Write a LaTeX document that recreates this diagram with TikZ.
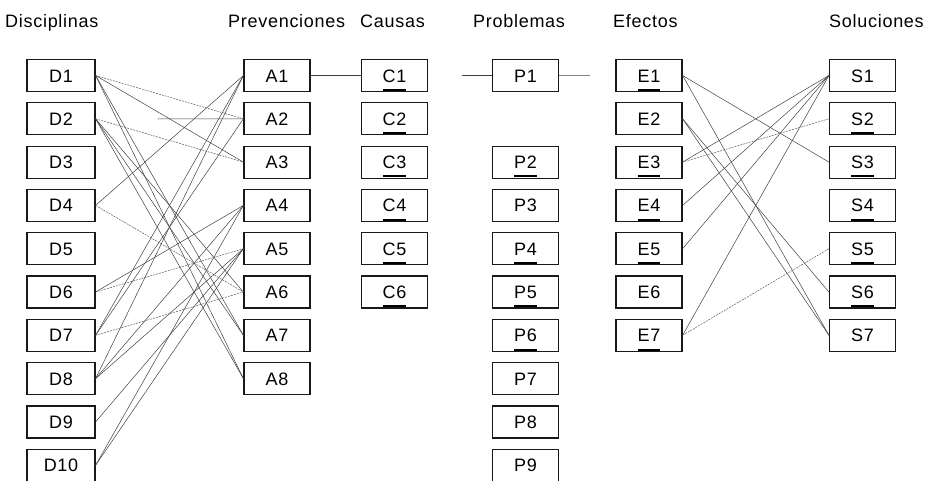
\documentclass[tikz,border=0pt]{standalone}
\usepackage{fontspec}
\setmainfont{Liberation Sans}[LetterSpace=4]
\usetikzlibrary{calc}
\newcommand\ulx[1]{\setbox0=\hbox{#1}\rlap{\smash{\rule[-8.7pt]{\wd0}{2pt}}}\box0}
\begin{document}
\begin{tikzpicture}[x=1pt,y=-1pt,
  font=\fontsize{18}{20}\selectfont,
  bx/.style={draw=black!90, line width=1.2pt, minimum width=66pt, minimum height=32pt,
    inner sep=0pt, text height=13pt, text depth=0pt},
  hd/.style={anchor=base west, inner sep=0pt},
  ln/.style={draw=black!75, line width=0.5pt},
  lnd/.style={draw=black!65, line width=0.5pt, dash pattern=on 2pt off 1pt}]
\useasboundingbox (0,0) rectangle (926,480);

% headers
\node[hd] (hD) at (5,27) {Disciplinas};
\node[hd] (hA) at (228,27) {Prevenciones};
\node[hd] (hC) at (360,27) {Causas};
\node[hd] (hP) at (473,27) {Problemas};
\node[hd] (hE) at (613,27) {Efectos};
\node[hd] (hS) at (829,27) {Soluciones};

% Disciplinas
\foreach \i in {1,...,10}
  \node[bx, minimum width=68pt] (D\i) at (61,{75.5+(\i-1)*43.3}) {D\i};

% Prevenciones
\foreach \i in {1,...,8}
  \node[bx] (A\i) at (277,{75.5+(\i-1)*43.3}) {A\i};

% Causas
\foreach \i in {1,...,6}
  \node[bx] (C\i) at (394.5,{75.5+(\i-1)*43.3}) {\ulx{C\i}};

% Problemas
\node[bx] (P1) at (525.5,75.5) {P1};
\node[bx] (P2) at (525.5,162.1) {\ulx{P2}};
\node[bx] (P3) at (525.5,205.4) {P3};
\node[bx] (P4) at (525.5,248.7) {\ulx{P4}};
\node[bx] (P5) at (525.5,292.0) {\ulx{P5}};
\node[bx] (P6) at (525.5,335.3) {\ulx{P6}};
\node[bx] (P7) at (525.5,378.6) {P7};
\node[bx] (P8) at (525.5,421.9) {P8};
\node[bx] (P9) at (525.5,465.2) {P9};

% Efectos
\node[bx] (E1) at (649,75.5) {\ulx{E1}};
\node[bx] (E2) at (649,118.8) {E2};
\node[bx] (E3) at (649,162.1) {\ulx{E3}};
\node[bx] (E4) at (649,205.4) {\ulx{E4}};
\node[bx] (E5) at (649,248.7) {\ulx{E5}};
\node[bx] (E6) at (649,292.0) {E6};
\node[bx] (E7) at (649,335.3) {\ulx{E7}};

% Soluciones
\node[bx] (S1) at (862.5,75.5) {S1};
\node[bx] (S2) at (862.5,118.8) {\ulx{S2}};
\node[bx] (S3) at (862.5,162.1) {\ulx{S3}};
\node[bx] (S4) at (862.5,205.4) {\ulx{S4}};
\node[bx] (S5) at (862.5,248.7) {\ulx{S5}};
\node[bx] (S6) at (862.5,292.0) {\ulx{S6}};
\node[bx] (S7) at (862.5,335.3) {S7};

% D -> A connectors
\foreach \a/\b in {1/3,1/7,1/8,2/6,2/7,2/8,4/1,6/4,7/1,7/2,8/1,8/4,8/5,9/5,10/4,10/5}
  \draw[ln] (D\a.east) -- (A\b.west);
\foreach \a/\b in {1/2,2/3,4/6,6/5,7/6}
  \draw[lnd] (D\a.east) -- (A\b.west);
\coordinate (d2s) at ($(D2.east)!0.42!(A2.west)$);
\draw[ln] (d2s) -- (A2.west);

% A1 - C1 - P1 - E1
\draw[ln] (A1.east) -- (C1.west);
\coordinate (cps) at ($(C1.east)!0.53!(P1.west)$);
\draw[ln] (cps) -- (P1.west);
\coordinate (pee) at ($(P1.east)!0.55!(E1.west)$);
\draw[ln] (P1.east) -- (pee);

% E -> S connectors
\foreach \a/\b in {1/3,1/7,2/6,2/7,3/1,4/1,5/1,7/1}
  \draw[ln] (E\a.east) -- (S\b.west);
\foreach \a/\b in {3/2,7/5}
  \draw[lnd] (E\a.east) -- (S\b.west);
\end{tikzpicture}
\end{document}
